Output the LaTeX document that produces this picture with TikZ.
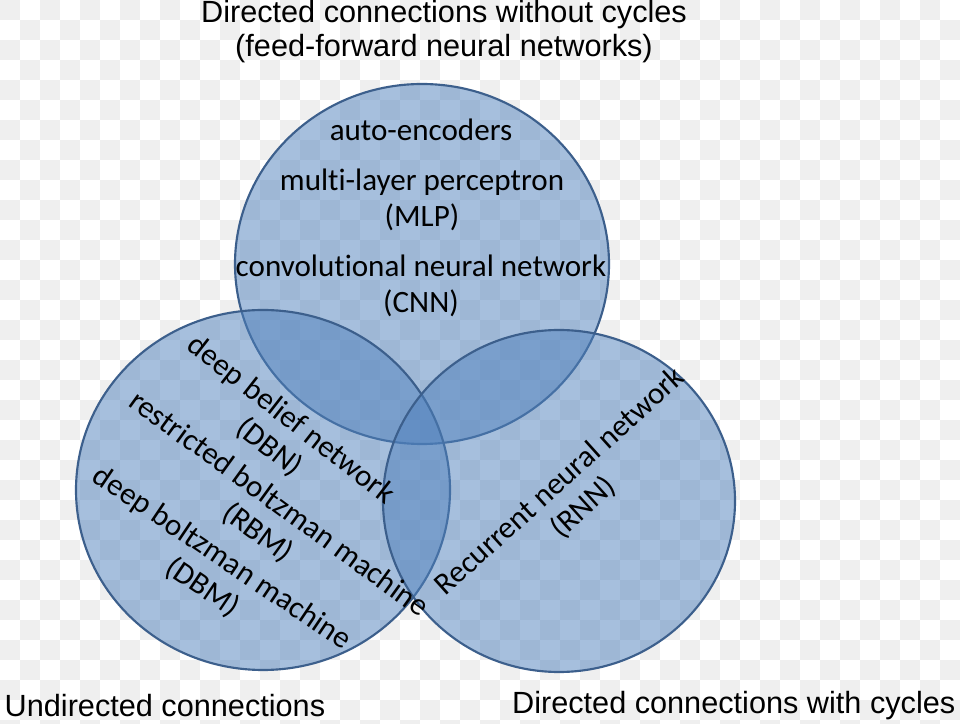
\documentclass[tikz,border=0pt]{standalone}
\usepackage{fontspec}
\setmainfont{Carlito}[Ligatures=NoCommon]
\newfontfamily\arialfont{Liberation Sans}
\usetikzlibrary{shapes.geometric}
\definecolor{setfill}{HTML}{4F81BD}
\definecolor{setline}{HTML}{3C5F8C}
\definecolor{checker}{HTML}{EFEFEF}
\tikzset{
  venn/.style={ellipse, inner sep=0pt, draw=setline, line width=1.6pt,
    fill=setfill, fill opacity=0.5, draw opacity=1},
  member/.style={align=center, text opacity=1, font=\fontsize{23.3}{26.5}\selectfont},
  heading/.style={align=center, font=\arialfont\fontsize{23}{25.5}\selectfont}
}
\begin{document}
\begin{tikzpicture}[x=0.75pt, y=0.75pt]
\useasboundingbox (0, 0) rectangle (960, 724);
% transparency grid behind the sets
\fill[white] (0, 0) rectangle (960, 724);
\foreach \i in {0,...,47}
  \foreach \j in {0,...,36} {
    \pgfmathparse{int(mod(\i+\j,2))}
    \ifnum\pgfmathresult=0
      \fill[checker] (20*\i, 724-20*\j) rectangle ++(20, -20);
    \fi
  }

\node[venn, minimum width=280.5pt, minimum height=270pt] (ffw) at (422, 460) {};
\node[venn, minimum width=280.5pt, minimum height=270pt] (undir) at (263, 234) {};
\node[venn, minimum width=264pt, minimum height=256.5pt] (cyc) at (559, 223) {};

\node[heading] (ffwtitle) at (444, 692)
  {Directed connections without cycles\\(feed-forward neural networks)};
\node[heading, anchor=west] (undirtitle) at (0, 18) {Undirected connections};
\node[heading, anchor=east] (cyctitle) at (960, 18) {Directed connections with cycles};

\node[member] (ae) at (421, 594) {auto-encoders};
\node[member] (mlp) at (422, 524) {multi-layer perceptron\\(MLP)};
\node[member] (cnn) at (421, 438) {convolutional neural network\\(CNN)};

\node[member, rotate=-38] (dbn) at (280, 290) {deep belief network\\(DBN)};
\node[member, rotate=-36] (rbm) at (268, 205) {restricted boltzman machine\\(RBM)};
\node[member, rotate=-34] (dbm) at (212, 151) {deep boltzman machine\\(DBM)};

\node[member, rotate=42] (rnn) at (572, 229) {Recurrent neural network\\(RNN)};
\end{tikzpicture}
\end{document}
